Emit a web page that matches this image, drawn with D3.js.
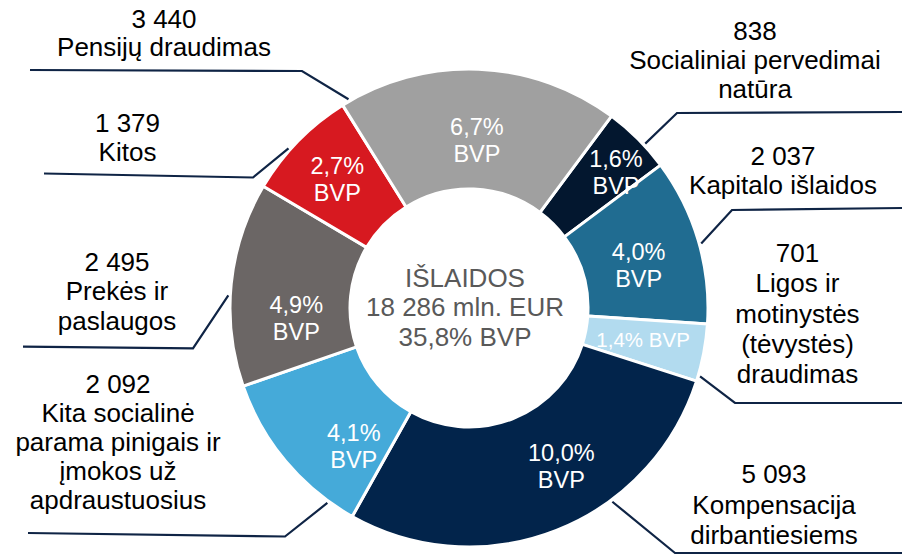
<!DOCTYPE html>
<html><head><meta charset="utf-8">
<script src="https://cdn.jsdelivr.net/npm/d3@7"></script>
<style>body{margin:0;background:#fff} svg{display:block}</style>
</head><body><svg id="c" width="902" height="555"></svg>
<script>
// ---------- DATA ----------
const categories = [
  ["Socialiniai pervedimai", "natūra"],
  ["Kapitalo išlaidos"],
  ["Ligos ir", "motinystės", "(tėvystės)", "draudimas"],
  ["Kompensacija", "dirbantiesiems"],
  ["Kita socialinė", "parama pinigais ir", "įmokos už", "apdraustuosius"],
  ["Prekės ir", "paslaugos"],
  ["Kitos"],
  ["Pensijų draudimas"]
];
const values = [838, 2037, 701, 5093, 2092, 2495, 1379, 3440];
const gdpShares = ["1,6%", "4,0%", "1,4%", "10,0%", "4,1%", "4,9%", "2,7%", "6,7%"];
const centerLines = ["IŠLAIDOS", "18 286 mln. EUR", "35,8% BVP"];
const unitLabel = "BVP";

// ---------- STYLE / LAYOUT ----------
const colors = ["#03172f", "#206c91", "#b2dbef", "#02244b", "#45aad9", "#6b6665", "#d71920", "#a0a0a0"];
const W = 902, H = 555, cx = 469, cy = 308, rOut = 239, rIn = 119;
const startDeg = 36.6;
const FONT = "'Liberation Sans', Arial, sans-serif";
// inner label placement [angle deg, radius], single-line flag
const innerPos = [[47.3, 200], [75.8, 175], [100.4, 177], [149.7, 183], [219.8, 180], [266.6, 173], [314.3, 184], [2.7, 168]];
const innerSingle = [false, false, true, false, false, false, false, false];
// outer label placement: centre x, first baseline, line step
const outerPos = [
  [755, 39.5, 29], [783, 165, 28.5], [797.5, 262, 30.3], [774, 483, 30.5],
  [118, 393, 29], [117, 271, 29.3], [127.5, 131.5, 29], [164, 28.3, 28]
];
// leader lines: anchor angle on ring, then elbow and end points
const leaders = [
  [47, [[677, 113], [902, 112]]],
  [74.5, [[732, 210], [902, 208]]],
  [106.5, [[735, 403], [902, 403]]],
  [143.5, [[675, 553], [902, 553]]],
  [216, [[285, 536.5], [28, 533]]],
  [273, [[193, 348.3], [23, 346.7]]],
  [311.5, [[253, 177.5], [44, 173.5]]],
  [330, [[302, 71], [30, 70]]]
];

const rad = d => d * Math.PI / 180;
const polar = (deg, r) => [cx + r * Math.sin(rad(deg)), cy - r * Math.cos(rad(deg))];
const fmt = d3.formatLocale({decimal: ",", thousands: " ", grouping: [3], currency: ["", ""]}).format(",d");

const svg = d3.select("#c");
svg.append("rect").attr("width", W).attr("height", H).attr("fill", "#fff");

const pie = d3.pie().sort(null).value(d => d)
  .startAngle(rad(startDeg)).endAngle(rad(startDeg) + 2 * Math.PI);
const arcs = pie(values);
const arc = d3.arc().innerRadius(rIn).outerRadius(rOut);

const g = svg.append("g").attr("transform", `translate(${cx},${cy})`);
g.selectAll("path").data(arcs).join("path")
  .attr("d", arc)
  .attr("fill", (d, i) => colors[i])
  .attr("stroke", "#fff").attr("stroke-width", 3).attr("stroke-linejoin", "round");

// leader lines
const line = d3.line();
svg.selectAll("path.leader").data(leaders).join("path")
  .attr("class", "leader")
  .attr("d", d => line([polar(d[0], rOut + 2), ...d[1]]))
  .attr("fill", "none").attr("stroke", "#0f2445").attr("stroke-width", 2.2);

// inner labels
arcs.forEach((a, i) => {
  const [x, y] = polar(innerPos[i][0], innerPos[i][1]);
  if (innerSingle[i]) {
    const fs = 20.5;
    svg.append("text").attr("x", x).attr("y", y + 0.358 * fs)
      .attr("text-anchor", "middle").attr("font-family", FONT).attr("font-size", fs)
      .attr("fill", "#fff").text(gdpShares[i] + " " + unitLabel);
  } else {
    const fs = 23.5;
    [gdpShares[i], unitLabel].forEach((t, k) => {
      svg.append("text").attr("x", x).attr("y", y + (k === 0 ? -13.5 : 13.5) + 0.358 * fs)
        .attr("text-anchor", "middle").attr("font-family", FONT).attr("font-size", fs)
        .attr("fill", "#fff").text(t);
    });
  }
});

// outer labels
categories.forEach((lines, i) => {
  const [x, y0, step] = outerPos[i];
  const all = [fmt(values[i]), ...lines];
  const t = svg.append("text").attr("text-anchor", "middle")
    .attr("font-family", FONT).attr("font-size", 26).attr("fill", "#000");
  all.forEach((s, k) => {
    t.append("tspan").attr("x", x).attr("y", y0 + k * step).text(s);
  });
});

// centre text
centerLines.forEach((s, k) => {
  svg.append("text").attr("x", cx - 4).attr("y", 286.7 + k * 29.7)
    .attr("text-anchor", "middle").attr("font-family", FONT).attr("font-size", 26)
    .attr("fill", "#595959").text(s);
});
</script>
</body></html>
